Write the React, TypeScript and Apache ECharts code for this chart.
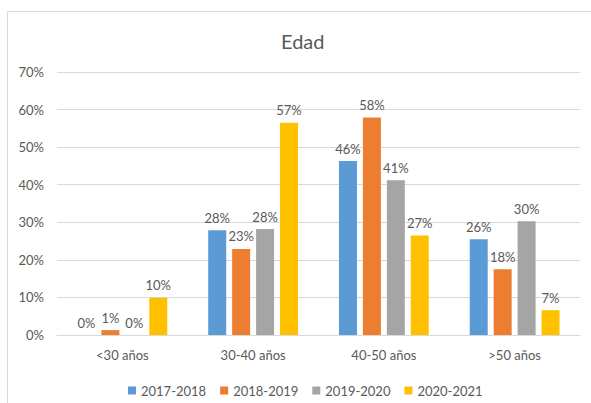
import React, { useEffect, useRef } from "react";
import * as echarts from "echarts";

const categories = ["<30 años", "30-40 años", "40-50 años", ">50 años"];
const seriesNames = ["2017-2018", "2018-2019", "2019-2020", "2020-2021"];
const s2017 = [0, 27.9, 46.3, 25.5];
const s2018 = [1.3, 22.9, 57.9, 17.5];
const s2019 = [0, 28.2, 41.2, 30.3];
const s2020 = [9.9, 56.5, 26.5, 6.6];
const colors = ["#5B9BD5", "#ED7D31", "#A5A5A5", "#FFC000"];
const FONT = "Lato";

export default function App() {
  const ref = useRef<HTMLDivElement>(null);
  useEffect(() => {
    if (!ref.current) return;
    const chart = echarts.init(ref.current, undefined, { renderer: "svg" });
    const values = [s2017, s2018, s2019, s2020];
    chart.setOption({
      animation: false,
      backgroundColor: "#ffffff",
      title: {
        text: "Edad",
        left: 276,
        top: 26,
        textStyle: { fontFamily: FONT, fontSize: 20, fontWeight: "normal", color: "#595959" },
      },
      graphic: [
        {
          type: "rect",
          shape: { x: 7.5, y: 11.5, width: 600, height: 420 },
          style: { fill: "none", stroke: "#d9d9d9", lineWidth: 1 },
          silent: true,
        },
      ],
      legend: {
        data: seriesNames,
        top: 379,
        left: 123,
        itemWidth: 8,
        itemHeight: 8,
        itemGap: 14,
        icon: "rect",
        textStyle: { fontFamily: FONT, fontSize: 13, color: "#595959" },
      },
      grid: { left: 57, right: 11, top: 72, bottom: 68, containLabel: false },
      xAxis: {
        type: "category",
        data: categories,
        axisLine: { lineStyle: { color: "#d9d9d9" } },
        axisTick: { show: false },
        axisLabel: { fontFamily: FONT, fontSize: 13, color: "#595959", margin: 13 },
      },
      yAxis: {
        type: "value",
        min: 0,
        max: 70,
        interval: 10,
        axisLine: { show: false },
        axisTick: { show: false },
        splitLine: { lineStyle: { color: "#d9d9d9" } },
        axisLabel: { fontFamily: FONT, fontSize: 13, color: "#595959", margin: 13, formatter: "{value}%" },
      },
      series: seriesNames.map((name, i) => ({
        name,
        type: "bar",
        data: values[i],
        barWidth: 18,
        barGap: "33%",
        itemStyle: { color: colors[i] },
        label: {
          show: true,
          position: "top",
          distance: 6,
          fontFamily: FONT,
          fontSize: 13,
          color: "#595959",
          formatter: (p: any) => Math.round(p.value) + "%",
        },
      })),
    });
    return () => chart.dispose();
  }, []);
  return (
    <div
      ref={ref}
      style={{ position: "absolute", left: 0, top: 0, width: 591, height: 403 }}
    />
  );
}
